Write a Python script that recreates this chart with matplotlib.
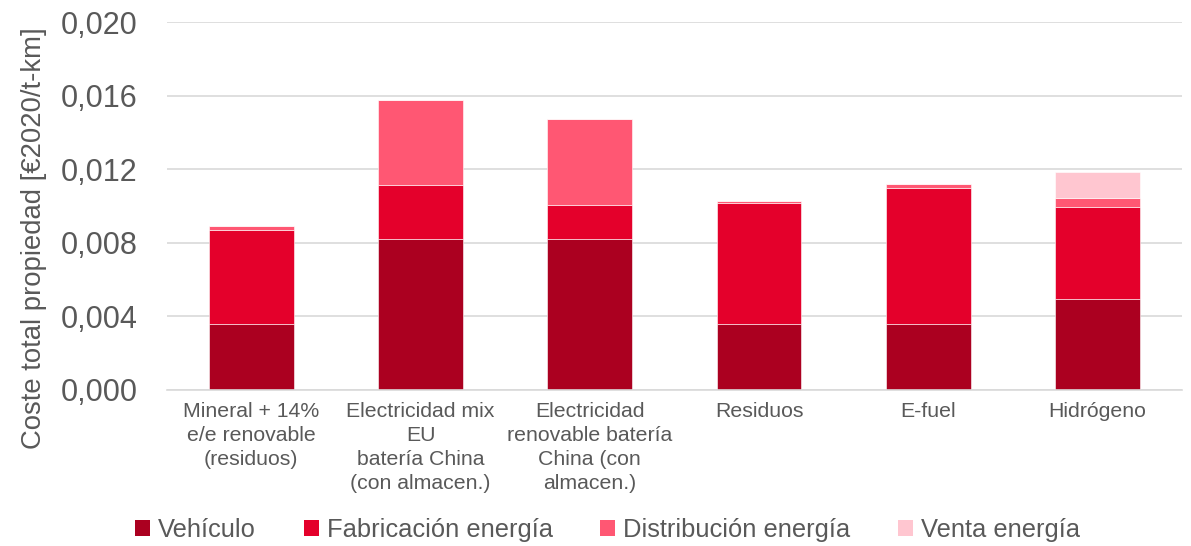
import matplotlib
matplotlib.use("Agg")
import matplotlib.pyplot as plt
import numpy as np
from matplotlib.patches import Patch

categories = [
    "Mineral + 14%\ne/e renovable\n(residuos)",
    "Electricidad mix\nEU\nbatería China\n(con almacen.)",
    "Electricidad\nrenovable batería\nChina (con\nalmacen.)",
    "Residuos",
    "E-fuel",
    "Hidrógeno",
]
series_names = ["Vehículo", "Fabricación energía", "Distribución energía", "Venta energía"]
vehiculo = [0.00359, 0.00821, 0.00821, 0.00359, 0.00359, 0.00493]
fabricacion = [0.00511, 0.00290, 0.00185, 0.00654, 0.00739, 0.00498]
distribucion = [0.00019, 0.00464, 0.00466, 0.00016, 0.00020, 0.00052]
venta = [0.0, 0.0, 0.0, 0.0, 0.0, 0.00140]
yticks = [0.000, 0.004, 0.008, 0.012, 0.016, 0.020]
ytick_labels = ["0,000", "0,004", "0,008", "0,012", "0,016", "0,020"]

colors = ["#AB0020", "#E4002B", "#FF5773", "#FFC6D0"]
text_color = "#595959"
grid_color = "#D9D9D9"

plt.rcParams["font.family"] = ["Liberation Sans", "DejaVu Sans"]

fig = plt.figure(figsize=(11.91, 5.46), dpi=100)
ax = fig.add_axes([0.140, 0.2863, 0.8525, 0.6734])

x = np.arange(len(categories))
bottom = np.zeros(len(categories))
for vals, col, name in zip([vehiculo, fabricacion, distribucion, venta], colors, series_names):
    v = np.array(vals)
    ax.bar(x, v, width=0.5, bottom=bottom, color=col, edgecolor="#FFFFFF", linewidth=0.4,
           label=name, zorder=3)
    bottom += v

ax.set_xlim(-0.5, len(categories) - 0.5)
ax.set_ylim(0, 0.020)
ax.set_yticks(yticks)
ax.set_yticklabels(ytick_labels)
ax.set_xticks(x)
ax.set_xticklabels(categories, fontsize=15.3, color=text_color, linespacing=1.34)
ax.tick_params(axis="y", length=0, pad=21, labelsize=22, labelcolor=text_color)
ax.tick_params(axis="x", length=0, pad=9)
ax.grid(axis="y", color=grid_color, linewidth=1.2, zorder=0)
for s in ["top", "right", "left"]:
    ax.spines[s].set_visible(False)
ax.spines["bottom"].set_color(grid_color)
ax.spines["bottom"].set_linewidth(1.2)
ax.spines["bottom"].set_zorder(4)

fig.text(0.0285, 0.563, "Coste total propiedad [€2020/t-km]", rotation=90, ha="center", va="center",
         fontsize=19.8, color=text_color)

handles = [Patch(facecolor=c, edgecolor="none") for c in colors]
fig.legend(handles, series_names, loc="center", bbox_to_anchor=(0.51, 0.029), ncol=4, frameon=False,
           fontsize=18.4, labelcolor=text_color, handlelength=0.6, handleheight=0.6,
           handletextpad=0.3, columnspacing=1.86)

fig.savefig("out.png", dpi=100)
